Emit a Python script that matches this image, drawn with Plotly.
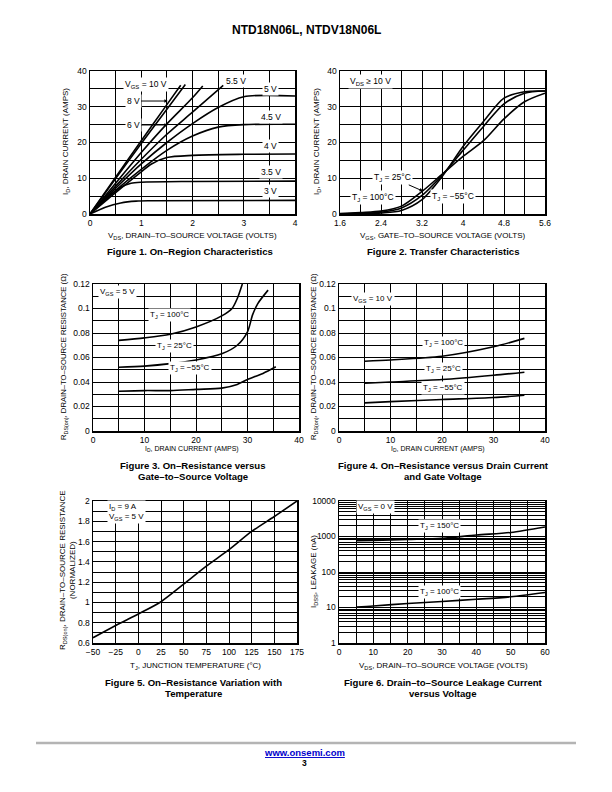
import plotly.graph_objects as go

# ---------------- DATA ----------------
# Figure 1: On-Region Characteristics
fig1_vgs_labels = ["10 V", "8 V", "6 V", "5.5 V", "5 V", "4.5 V", "4 V", "3.5 V", "3 V"]
fig1_vds = [
    [0, 0.5, 1, 1.5, 1.77],
    [0, 0.5, 1, 1.5, 1.86],
    [0, 0.5, 1, 1.5, 2, 2.2],
    [0, 0.5, 1, 1.5, 2, 2.6],
    [0, 0.5, 1, 1.5, 2, 2.5, 3, 4],
    [0, 0.5, 1, 1.5, 2, 2.5, 3, 4],
    [0, 0.5, 1, 1.2, 1.5, 2, 3, 4],
    [0, 0.3, 0.6, 0.8, 1, 2, 4],
    [0, 0.3, 0.6, 0.9, 1.2, 4],
]
fig1_id = [
    [0, 10.3, 20.5, 30.6, 36],
    [0, 9.9, 19.7, 29.3, 36.2],
    [0, 8.6, 17.2, 25.2, 32.5, 35.8],
    [0, 7.8, 15.3, 22.3, 28.5, 36],
    [0, 7.2, 14, 20, 25.3, 29.8, 32.8, 33],
    [0, 6.6, 12.5, 17.8, 21.8, 24.3, 25, 25.1],
    [0, 6, 11.8, 14, 15.8, 16.4, 16.7, 16.8],
    [0, 4, 7.5, 8.6, 8.9, 9.1, 9.2],
    [0, 1.9, 3.1, 3.6, 3.7, 3.8],
]

# Figure 2: Transfer Characteristics
fig2_vgs = [1.6, 2.0, 2.4, 2.8, 3.2, 3.6, 4.0, 4.4, 4.8, 5.2, 5.6]
fig2_id_m55 = [0, 0.05, 0.3, 1.0, 4.0, 10.6, 18.9, 25.9, 32.4, 34.2, 34.4]
fig2_id_25 = [0.05, 0.2, 0.5, 1.7, 5.2, 11, 17.8, 24.5, 30.8, 33.8, 34.4]
fig2_id_100 = [0.1, 0.4, 0.8, 2.2, 6.3, 11.2, 16.1, 20.5, 26.6, 31.4, 33.8]

# Figure 3: On-Resistance vs Drain Current, VGS = 5 V
fig3_id_100 = [5, 10, 15, 20, 25, 27, 28, 29]
fig3_r_100 = [0.074, 0.076, 0.079, 0.085, 0.094, 0.1, 0.108, 0.12]
fig3_id_25 = [5, 10, 15, 20, 25, 28, 30, 31, 32, 34]
fig3_r_25 = [0.052, 0.053, 0.055, 0.058, 0.063, 0.07, 0.081, 0.095, 0.104, 0.115]
fig3_id_m55 = [5, 10, 15, 20, 25, 28, 30, 33, 35.5]
fig3_r_m55 = [0.0325, 0.033, 0.033, 0.034, 0.035, 0.038, 0.042, 0.047, 0.0524]

# Figure 4: On-Resistance vs Drain Current, VGS = 10 V
fig4_id = [5, 10, 20, 30, 36]
fig4_r_100 = [0.057, 0.058, 0.061, 0.0687, 0.0756]
fig4_r_25 = [0.039, 0.040, 0.042, 0.0455, 0.048]
fig4_r_m55 = [0.023, 0.024, 0.0257, 0.0273, 0.0292]

# Figure 5: On-Resistance Variation with Temperature
fig5_tj = [-50, -25, 0, 25, 50, 75, 100, 125, 150, 175]
fig5_r = [0.652, 0.773, 0.886, 1.007, 1.18, 1.358, 1.52, 1.70, 1.847, 2.0]

# Figure 6: Drain-to-Source Leakage Current vs Voltage
fig6_vds = [5, 10, 20, 30, 40, 50, 60]
fig6_i_150 = [760, 780, 830, 890, 1100, 1300, 1860]
fig6_i_100 = [10.3, 11, 13, 14.8, 17, 20, 26.5]
fig6_tickvals = [1, 2, 3, 4, 5, 6, 7, 8, 9, 10, 20, 30, 40, 50, 60, 70, 80, 90,
                 100, 200, 300, 400, 500, 600, 700, 800, 900,
                 1000, 2000, 3000, 4000, 5000, 6000, 7000, 8000, 9000, 10000]
fig6_ticklabels = {1: "1", 10: "10", 100: "100", 1000: "1000", 10000: "10000"}

# ---------------- LAYOUT HELPERS ----------------
W, H = 612, 792
FONT = "Liberation Sans, Arial, sans-serif"


def xd(a, b):
    return [a / W, b / W]


def yd(top, bot):
    return [1 - bot / H, 1 - top / H]


def axis(domain, anchor, rng, dtick, minor_dtick=None, tick0=None, **kw):
    d = dict(domain=domain, anchor=anchor, range=rng, dtick=dtick,
             automargin=False,
             showgrid=True, gridcolor="black", gridwidth=1,
             showline=True, mirror=True, linecolor="black", linewidth=1.5,
             ticks="", zeroline=False,
             tickfont=dict(size=8.5, family=FONT, color="black"))
    if tick0 is not None:
        d["tick0"] = tick0
    if minor_dtick is not None:
        m = dict(dtick=minor_dtick, showgrid=True, gridcolor="black", gridwidth=1, ticks="")
        if tick0 is not None:
            m["tick0"] = tick0
        d["minor"] = m
    d.update(kw)
    return d


fig = go.Figure()
line = dict(color="black", width=1.6, shape="spline", smoothing=0.8)

# Figure 1
for xs, ys in zip(fig1_vds, fig1_id):
    fig.add_trace(go.Scatter(x=xs, y=ys, mode="lines", line=line, xaxis="x", yaxis="y", showlegend=False))
# Figure 2
for ys in (fig2_id_m55, fig2_id_25, fig2_id_100):
    fig.add_trace(go.Scatter(x=fig2_vgs, y=ys, mode="lines", line=line, xaxis="x2", yaxis="y2", showlegend=False))
# Figure 3
for xs, ys in ((fig3_id_100, fig3_r_100), (fig3_id_25, fig3_r_25), (fig3_id_m55, fig3_r_m55)):
    fig.add_trace(go.Scatter(x=xs, y=ys, mode="lines", line=line, xaxis="x3", yaxis="y3", showlegend=False))
# Figure 4
for ys in (fig4_r_100, fig4_r_25, fig4_r_m55):
    fig.add_trace(go.Scatter(x=fig4_id, y=ys, mode="lines", line=line, xaxis="x4", yaxis="y4", showlegend=False))
# Figure 5
fig.add_trace(go.Scatter(x=fig5_tj, y=fig5_r, mode="lines", line=line, xaxis="x5", yaxis="y5", showlegend=False))
# Figure 6
for ys in (fig6_i_150, fig6_i_100):
    fig.add_trace(go.Scatter(x=fig6_vds, y=ys, mode="lines", line=line, xaxis="x6", yaxis="y6", showlegend=False))

fig.update_layout(
    xaxis=axis(xd(90, 295), "y", [0, 4], 1, 0.5),
    yaxis=axis(yd(71, 214), "x", [0, 40], 10, 5),
    xaxis2=axis(xd(340, 545), "y2", [1.6, 5.6], 0.8, 0.4, tick0=1.6),
    yaxis2=axis(yd(71, 214), "x2", [0, 40], 10, 5),
    xaxis3=axis(xd(93, 299), "y3", [0, 40], 10, 5),
    yaxis3=axis(yd(284, 431), "x3", [0, 0.12], 0.02, 0.01),
    xaxis4=axis(xd(339, 545), "y4", [0, 40], 10, 5),
    yaxis4=axis(yd(284, 431), "x4", [0, 0.12], 0.02, 0.01),
    xaxis5=axis(xd(93, 297), "y5", [-50, 175], 25),
    yaxis5=axis(yd(501, 643), "x5", [0.6, 2.0], 0.2, 0.1, tick0=0.6),
    xaxis6=axis(xd(339, 545), "y6", [0, 60], 10, 5),
    yaxis6=axis(yd(501, 643), "x6", [0, 4], None, type="log", tickmode="array",
                tickvals=fig6_tickvals,
                ticktext=[fig6_ticklabels.get(v, "") for v in fig6_tickvals]),
)

ann = []


def label(text, x, y, xref, yref, size=8, **kw):
    d = dict(text=text, x=x, y=y, xref=xref, yref=yref, showarrow=False,
             bgcolor="white", borderpad=1,
             font=dict(size=size, family=FONT, color="black"))
    d.update(kw)
    ann.append(d)


def ptext(text, px, py, size=8, bold=False, angle=0, color="black"):
    ann.append(dict(text=f"<b>{text}</b>" if bold else text,
                    x=px / W, y=1 - py / H, xref="paper", yref="paper",
                    showarrow=False, textangle=angle, xanchor="center", yanchor="middle",
                    font=dict(size=size, family=FONT, color=color)))


# Fig 1 labels
label("V<sub>GS</sub> = 10 V", 1.09, 36.1, "x", "y", size=8.5)
label("5.5 V", 2.85, 37.2, "x", "y", size=8.5)
label("5 V", 3.53, 35, "x", "y", size=8.5)
label("4.5 V", 3.53, 27.1, "x", "y", size=8.5)
label("4 V", 3.53, 19, "x", "y", size=8.5)
label("3.5 V", 3.53, 11.7, "x", "y", size=8.5)
label("3 V", 3.53, 6.4, "x", "y", size=8.5)
for txt, yy in (("8 V", 31.6), ("6 V", 24.9)):
    ann.append(dict(text=txt, x=1.52, y=yy, ax=0.84, ay=yy, xref="x", yref="y",
                    axref="x", ayref="y", showarrow=True, arrowhead=2, arrowsize=0.7,
                    arrowwidth=1, arrowcolor="black", bgcolor="white", borderpad=1,
                    font=dict(size=8.5, family=FONT, color="black")))

# Fig 2 labels
label("V<sub>DS</sub> ≥ 10 V", 2.19, 37.2, "x2", "y2", size=8.5)
label("T<sub>J</sub> = 100°C", 2.24, 4.5, "x2", "y2", size=8.5)
label("T<sub>J</sub> = −55°C", 3.8, 4.8, "x2", "y2", size=8.5)
ann.append(dict(text="T<sub>J</sub> = 25°C", x=3.22, y=6.4, ax=2.63, ay=10.1,
                xref="x2", yref="y2", axref="x2", ayref="y2", showarrow=True,
                arrowhead=2, arrowsize=0.7, arrowwidth=1, arrowcolor="black",
                bgcolor="white", borderpad=1, font=dict(size=8.5, family=FONT, color="black")))

# Fig 3 labels
label("V<sub>GS</sub> = 5 V", 4.7, 0.1135, "x3", "y3")
label("T<sub>J</sub> = 100°C", 14.95, 0.0947, "x3", "y3")
label("T<sub>J</sub> = 25°C", 15.9, 0.0694, "x3", "y3")
label("T<sub>J</sub> = −55°C", 18.8, 0.0514, "x3", "y3")

# Fig 4 labels
label("V<sub>GS</sub> = 10 V", 6.6, 0.1078, "x4", "y4")
label("T<sub>J</sub> = 100°C", 20.2, 0.0718, "x4", "y4")
label("T<sub>J</sub> = 25°C", 20.2, 0.0506, "x4", "y4")
label("T<sub>J</sub> = −55°C", 20.2, 0.0351, "x4", "y4")

# Fig 5 labels
label("I<sub>D</sub> = 9 A<br>V<sub>GS</sub> = 5 V", -12.5, 1.89, "x5", "y5", align="left")

# Fig 6 labels (log axis -> log10 coordinates)
label("V<sub>GS</sub> = 0 V", 10.5, 3.83, "x6", "y6")
label("T<sub>J</sub> = 150°C", 29.4, 3.30, "x6", "y6")
label("T<sub>J</sub> = 100°C", 29.4, 1.44, "x6", "y6")

# Axis titles
ytitle_I = "I<sub>D</sub>, DRAIN CURRENT (AMPS)"
ytitle_R = "R<sub>DS(on)</sub>, DRAIN–TO–SOURCE RESISTANCE (Ω)"
ptext("V<sub>DS</sub>, DRAIN–TO–SOURCE VOLTAGE (VOLTS)", 192, 236, size=8)
ptext("V<sub>GS</sub>, GATE–TO–SOURCE VOLTAGE (VOLTS)", 443, 236, size=8)
ptext(ytitle_I, 66, 142, angle=-90, size=8)
ptext(ytitle_I, 317, 142, angle=-90, size=8)
ptext("I<sub>D</sub>, DRAIN CURRENT (AMPS)", 192, 449, size=7)
ptext("I<sub>D</sub>, DRAIN CURRENT (AMPS)", 438, 449, size=7)
ptext(ytitle_R, 64, 357, angle=-90, size=7.7)
ptext(ytitle_R, 314, 357, angle=-90, size=7.7)
ptext("T<sub>J</sub>, JUNCTION TEMPERATURE (°C)", 196, 666, size=8)
ptext("V<sub>DS</sub>, DRAIN–TO–SOURCE VOLTAGE (VOLTS)", 443, 666, size=8)
ptext("R<sub>DS(on)</sub>, DRAIN–TO–SOURCE RESISTANCE<br>(NORMALIZED)", 67, 570, angle=-90, size=8)
ptext("I<sub>DSS</sub>, LEAKAGE (nA)", 314, 572, angle=-90, size=8)

# Captions
CAP = 9.6
ptext("Figure 1. On–Region Characteristics", 190, 252, size=CAP, bold=True)
ptext("Figure 2. Transfer Characteristics", 443, 252, size=CAP, bold=True)
ptext("Figure 3. On–Resistance versus", 193, 465, size=CAP, bold=True)
ptext("Gate–to–Source Voltage", 193, 476, size=CAP, bold=True)
ptext("Figure 4. On–Resistance versus Drain Current", 443, 465, size=CAP, bold=True)
ptext("and Gate Voltage", 443, 476, size=CAP, bold=True)
ptext("Figure 5. On–Resistance Variation with", 193, 682, size=CAP, bold=True)
ptext("Temperature", 193, 693, size=CAP, bold=True)
ptext("Figure 6. Drain–to–Source Leakage Current", 443, 682, size=CAP, bold=True)
ptext("versus Voltage", 443, 693, size=CAP, bold=True)

# Header and footer
ptext("NTD18N06L, NTDV18N06L", 306, 30, size=12, bold=True)
ptext("<u>www.onsemi.com</u>", 304, 752, size=9.5, bold=True, color="#0000cc")
ptext("3", 304, 763, size=8.5, bold=True)

fig.update_layout(
    template="none",
    annotations=ann,
    shapes=[dict(type="line", xref="paper", yref="paper", x0=36 / W, x1=576 / W,
                 y0=1 - 743 / H, y1=1 - 743 / H, line=dict(color="#b4b4b4", width=2.5))],
    width=W, height=H, margin=dict(l=0, r=0, t=0, b=0, pad=0),
    paper_bgcolor="white", plot_bgcolor="white",
    font=dict(family=FONT, color="black"),
    showlegend=False,
    hovermode=False,
)

fig.write_html(
    "out.html",
    config={"displayModeBar": False, "staticPlot": True},
    post_script="document.body.style.margin='0px';document.body.style.padding='0px';"
                "document.documentElement.style.overflow='hidden';",
)
